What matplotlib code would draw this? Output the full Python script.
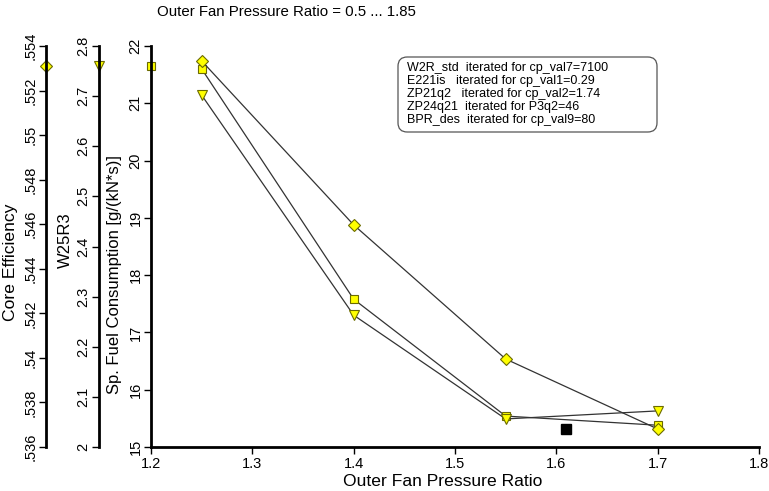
import numpy as np
import matplotlib
matplotlib.use("Agg")
import matplotlib.pyplot as plt
import matplotlib.transforms as mtransforms
from matplotlib.patches import FancyBboxPatch
from matplotlib.ticker import FuncFormatter

plt.rcParams['font.family'] = ['Liberation Sans', 'DejaVu Sans']

# Data
fpr = [1.25, 1.4, 1.55, 1.7]
sfc = [21.60, 17.58, 15.54, 15.38]               # square markers, main axis
core_eff = [0.55333, 0.54597, 0.53995, 0.53681]  # diamond markers
w25r3 = [2.702, 2.263, 2.056, 2.072]             # triangle markers
design_fpr = 1.61
design_sfc = 15.31
axis_core = 0.5531
axis_w25 = 2.76
axis_sfc = 21.65

legend_lines = [
    "W2R_std  iterated for cp_val7=7100",
    "E221is   iterated for cp_val1=0.29",
    "ZP21q2   iterated for cp_val2=1.74",
    "ZP24q21  iterated for P3q2=46",
    "BPR_des  iterated for cp_val9=80",
]

W, H = 769, 491
fig = plt.figure(figsize=(W / 100, H / 100), dpi=100)
ax = fig.add_axes([151 / W, 1 - 447 / H, (759 - 151) / W, (447 - 46) / H])

mk = dict(markerfacecolor='#ffff00', markeredgecolor='#6b6b00', markeredgewidth=0.8)
lc = '#333333'

# Main axis: fuel consumption
ax.set_xlim(1.2, 1.8)
ax.set_ylim(15, 22)
ax.set_xticks(np.arange(1.2, 1.81, 0.1))
ax.xaxis.set_major_formatter(FuncFormatter(lambda v, p: f"{v:.1f}"))
ax.set_yticks(range(15, 23))
for s in ['top', 'right']:
    ax.spines[s].set_visible(False)
for s in ['left', 'bottom']:
    ax.spines[s].set_linewidth(2)


def short_fmt(v, p):
    s = f"{v:.3f}".rstrip('0').rstrip('.')
    return s[1:] if s.startswith('0.') else s


# Extra axes on the left
axc = ax.twinx()
axw = ax.twinx()
for a, off in [(axw, 52), (axc, 105)]:
    a.spines['left'].set_visible(True)
    a.spines['left'].set_position(('outward', off * 72 / 100))
    a.spines['left'].set_linewidth(2)
    for s in ['top', 'right', 'bottom']:
        a.spines[s].set_visible(False)
    a.yaxis.set_ticks_position('left')
    a.yaxis.set_label_position('left')

axc.set_ylim(0.536, 0.554)
axc.set_yticks(np.arange(0.536, 0.5541, 0.002))
axc.yaxis.set_major_formatter(FuncFormatter(short_fmt))
axw.set_ylim(2.0, 2.8)
axw.set_yticks(np.arange(2.0, 2.81, 0.1))
axw.yaxis.set_major_formatter(FuncFormatter(short_fmt))

for a in [ax, axc, axw]:
    a.tick_params(axis='y', length=5, width=1, labelsize=10.5, labelrotation=90, pad=1)
    for lab in a.get_yticklabels():
        lab.set_va('center')
ax.tick_params(axis='x', length=5, width=1, labelsize=10.5, pad=2)

# Series
ax.plot(fpr, sfc, color=lc, lw=0.9, marker='s', markersize=6, **mk, zorder=5)
axc.plot(fpr, core_eff, color=lc, lw=0.9, marker='D', markersize=6, **mk, zorder=5)
axw.plot(fpr, w25r3, color=lc, lw=0.9, marker='v', markersize=7, **mk, zorder=5)
ax.plot([design_fpr], [design_sfc], marker='s', color='black', markersize=7, ls='none')


# Markers on the axis spines
def spine_trans(a, off):
    base = mtransforms.blended_transform_factory(ax.transAxes, a.transData)
    return base + mtransforms.ScaledTranslation(-off / 100, 0, fig.dpi_scale_trans)


ax.plot([0], [axis_sfc], marker='s', markersize=6, transform=spine_trans(ax, 0), clip_on=False, **mk)
axw.plot([0], [axis_w25], marker='v', markersize=7, transform=spine_trans(axw, 52), clip_on=False, **mk)
axc.plot([0], [axis_core], marker='D', markersize=6, transform=spine_trans(axc, 105), clip_on=False, **mk)

# Labels
fig.text(443 / W, 1 - 481 / H, "Outer Fan Pressure Ratio", ha='center', va='center', fontsize=12.6)
fig.text(11 / W, 1 - 262 / H, "Core Efficiency", rotation=90, ha='center', va='center', fontsize=12.6)
fig.text(65 / W, 1 - 240 / H, "W25R3", rotation=90, ha='center', va='center', fontsize=12)
fig.text(115 / W, 1 - 275 / H, "Sp. Fuel Consumption [g/(kN*s)]", rotation=90, ha='center', va='center', fontsize=12)
fig.text(286 / W, 1 - 12 / H, "Outer Fan Pressure Ratio = 0.5 ... 1.85", ha='center', va='center', fontsize=10.8)

# Iteration info box
box = FancyBboxPatch((398 / W, 1 - 132 / H), (657 - 398) / W, (132 - 57) / H,
                     boxstyle='round,pad=0,rounding_size=0.012', transform=fig.transFigure,
                     facecolor='white', edgecolor='#555555', lw=0.9, mutation_aspect=W / H)
fig.patches.append(box)
fig.text(407 / W, 1 - 94 / H, "\n".join(legend_lines), ha='left', va='center', fontsize=9,
         linespacing=1.1)

fig.savefig("out.png", dpi=100)
